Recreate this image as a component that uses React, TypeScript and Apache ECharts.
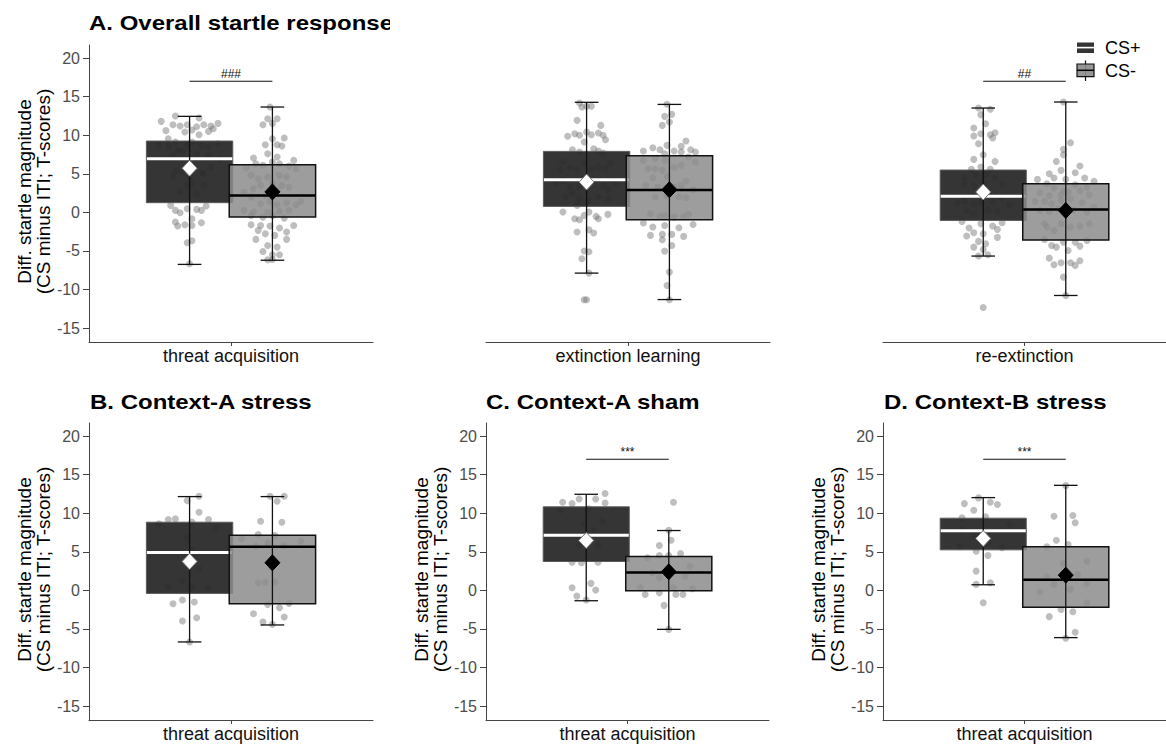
import React, { useEffect, useRef } from 'react';
import * as echarts from 'echarts';

const FONT = "'Liberation Sans', Arial, Helvetica, sans-serif";

// ---------- DATA ----------
const panelTitles = ['A. Overall startle response', '', '', 'B. Context-A stress', 'C. Context-A sham', 'D. Context-B stress'];
const phaseLabels = ['threat acquisition', 'extinction learning', 're-extinction', 'threat acquisition', 'threat acquisition', 'threat acquisition'];
const groupNames = ['CS+', 'CS-'];
const yTicks = [-15, -10, -5, 0, 5, 10, 15, 20];
const yAxisTitle = 'Diff. startle magnitude\n(CS minus ITI; T-scores)';

// [lower whisker, Q1, median, Q3, upper whisker, mean]
const statsPlus = [
  [-6.74, 1.26, 6.96, 9.25, 12.45, 5.72],
  [-7.87, 0.78, 4.24, 7.91, 14.27, 3.93],
  [-5.66, -1.04, 2.08, 5.49, 13.53, 2.64],
  [-6.68, -0.39, 4.92, 8.84, 12.16, 3.75],
  [-1.34, 3.75, 7.16, 10.83, 12.46, 6.47],
  [0.73, 5.26, 7.72, 9.36, 12.03, 6.73],
];
const statsMinus = [
  [-6.2, -0.6, 2.2, 6.19, 13.66, 2.66],
  [-11.3, -0.95, 2.9, 7.35, 14.0, 2.94],
  [-10.77, -3.59, 0.39, 3.72, 14.31, 0.26],
  [-4.48, -1.72, 5.65, 7.16, 12.16, 3.58],
  [-5.05, -0.04, 2.33, 4.4, 7.76, 2.41],
  [-6.12, -2.2, 1.38, 5.65, 13.62, 1.98],
];
const sigLabels = ['###', '', '##', '', '***', '***'];
const sigLevel = 17;

// individual points: [horizontal jitter (category units), value]
const ptsA1Plus = [[-0.06,12.49],[0.04,12.23],[-0.12,11.8],[-0.07,11.37],[-0.04,11.2],[-0.01,11.37],[0.03,11.1],[0.06,11.37],[0.09,11.2],[0.12,11.54],[-0.10,10.6],[-0.02,10.42],[0.01,10.68],[0.08,10.5],[0.10,10.85],[0.04,10.07],[-0.09,9.55],[-0.13,8.69],[-0.09,8.6],[-0.06,9.12],[-0.05,8.04],[-0.01,8.78],[0.01,9.12],[0.05,8.69],[0.08,8.47],[0.12,8.91],[-0.07,7.39],[-0.03,7.91],[0.03,7.61],[0.08,7.39],[0.13,6.96],[-0.06,5.32],[-0.03,5.15],[0.01,5.32],[0.05,5.15],[0.09,5.88],[-0.07,4.58],[0,4.58],[0.06,5.02],[0.01,3.72],[-0.04,2.72],[0.03,2.37],[0.06,3.5],[-0.01,3.59],[-0.08,0.91],[-0.06,0.26],[-0.04,-0.04],[-0.01,0.48],[0.03,0.39],[0.05,0.26],[0.07,0.82],[-0.06,-1.25],[-0.05,-1.77],[-0.02,-1.6],[0.01,-1.69],[0.05,-1.34],[0.01,-0.82],[-0.01,-3.93],[0.01,-3.67],[0,-6.66]];
const ptsA1Minus = [[-0.01,13.66],[-0.02,12.15],[0.02,12.15],[-0.04,11.37],[0,11.54],[0,9.55],[0.05,9.64],[-0.03,8.78],[0.02,8.78],[0.04,8.6],[-0.08,7.04],[-0.02,7.61],[0.02,7.18],[0.09,6.74],[-0.11,5.75],[-0.07,6.31],[-0.04,6.1],[0,6.53],[0.03,6.31],[0.07,6.01],[0.10,5.66],[-0.09,4.8],[-0.06,4.37],[-0.02,4.58],[0.03,4.8],[0.06,4.58],[-0.05,3.5],[0,3.72],[0.04,3.5],[0.07,3.28],[-0.08,3.07],[-0.12,2.63],[-0.03,2.2],[0.02,2.85],[-0.09,1.98],[-0.05,1.13],[-0.01,1.43],[0.02,1.0],[0.06,1.26],[0.10,1.0],[0.12,1.43],[-0.12,0.26],[-0.08,0.04],[-0.02,0.04],[0.03,0.13],[0.07,0.26],[-0.09,-0.39],[-0.04,-0.61],[0,-0.39],[0.05,-0.74],[-0.09,-1.6],[-0.05,-1.69],[-0.01,-1.77],[0.03,-2.03],[0.09,-1.69],[-0.06,-2.33],[-0.03,-2.77],[0.01,-2.98],[0.06,-2.55],[-0.07,-3.5],[-0.02,-4.28],[0.02,-4.5],[0.06,-3.5],[-0.04,-5.06],[0,-5.49],[0.03,-5.49],[-0.02,-6.14],[0,-6.1]];
const ptsA2Plus = [[-0.03,14.18],[0,13.75],[0.02,13.75],[-0.02,13.66],[-0.04,11.93],[0.06,11.28],[-0.08,9.86],[-0.05,10.2],[-0.03,9.99],[0,10.42],[0.02,10.07],[0.05,10.29],[0.07,9.99],[0.08,9.42],[-0.01,9.12],[-0.06,8.13],[-0.03,7.83],[0.03,8.26],[0.05,7.96],[0.07,7.7],[-0.10,6.53],[-0.11,5.53],[-0.07,5.79],[-0.04,5.53],[-0.01,6.4],[0.02,5.66],[0.05,5.88],[0.08,5.66],[0.10,6.4],[-0.13,3.93],[-0.10,4.15],[-0.07,3.28],[-0.03,3.37],[0.03,4.15],[0.07,3.5],[0.09,2.94],[0.12,3.72],[-0.09,1.99],[-0.06,2.5],[-0.03,1.77],[0.01,1.56],[0.05,1.99],[0.09,1.77],[-0.04,0.91],[-0.10,0.04],[-0.05,-0.82],[-0.03,-0.95],[-0.01,-0.39],[0.01,0.04],[0.04,-0.52],[0.05,-0.82],[0.09,-0.26],[-0.04,-2.55],[0.01,-2.25],[0.03,-2.68],[-0.01,-5.01],[0.01,-5.1],[-0.02,-6.01],[0.01,-7.87],[-0.01,-11.33],[0,-11.33]];
const ptsA2Minus = [[-0.01,14.01],[-0.02,12.45],[0.01,12.71],[0,11.72],[-0.03,11.28],[-0.01,8.69],[-0.11,7.96],[-0.07,8.39],[-0.04,8.13],[-0.02,7.61],[0.02,7.96],[0.05,8.56],[0.07,9.25],[0.09,8.13],[0.11,7.83],[-0.11,6.74],[-0.06,6.96],[-0.02,6.74],[0.05,7.83],[0.08,7.18],[0.11,6.53],[-0.09,5.66],[-0.06,5.66],[-0.03,5.45],[0.02,5.79],[0.05,6.1],[-0.07,4.5],[-0.01,4.67],[0.07,4.06],[-0.10,3.5],[-0.05,3.28],[-0.02,3.07],[0.02,3.28],[0.05,3.5],[0.10,2.94],[-0.06,1.99],[-0.01,2.2],[0.04,1.99],[0.07,1.9],[-0.08,-0.17],[-0.04,-0.52],[-0.02,-0.39],[0.02,-0.61],[0.06,-0.52],[0.08,-0.26],[-0.11,-1.38],[-0.07,-1.9],[-0.02,-1.69],[0.04,-1.99],[0.10,-1.56],[-0.08,-2.98],[-0.03,-2.85],[0.01,-2.85],[0.06,-3.11],[-0.03,-3.55],[0.01,-4.28],[-0.02,-5.02],[0,-7.74],[-0.01,-9.47],[0,-11.33]];
const ptsA3Plus = [[-0.02,13.53],[0.03,13.36],[-0.01,12.67],[0.01,11.5],[-0.04,10.94],[0.05,10.33],[-0.04,9.9],[-0.01,10.2],[0.03,10.07],[0.04,9.64],[-0.02,8.91],[0,7.48],[-0.04,6.87],[0.05,6.61],[-0.05,5.58],[-0.01,5.88],[0.03,5.58],[-0.08,4.45],[-0.03,4.8],[0.01,4.89],[0.05,4.45],[-0.08,3.59],[-0.04,3.41],[0,3.85],[0.08,3.59],[-0.11,1.26],[-0.08,1.43],[-0.04,1.13],[-0.01,1.34],[0.04,1.43],[0.08,1.86],[0.11,1.0],[-0.07,0.26],[-0.04,-0.17],[0.02,0.26],[0.06,0.13],[-0.09,-1.17],[-0.01,-1.47],[0.08,-1.34],[-0.06,-2.03],[0.04,-1.77],[0.06,-2.2],[-0.07,-3.07],[-0.04,-2.64],[0,-2.77],[0.06,-3.24],[-0.02,-3.76],[0.01,-4.06],[-0.04,-4.5],[0,-4.8],[-0.02,-5.66],[0.02,-5.49],[0,-12.32]];
const ptsA3Minus = [[-0.01,14.31],[0.02,9.04],[-0.01,8.17],[-0.01,7.48],[-0.04,6.61],[0.06,6.01],[-0.07,5.02],[-0.05,4.45],[-0.02,5.45],[0.04,5.15],[0.08,4.45],[-0.12,4.28],[-0.08,3.72],[0,4.28],[0.04,3.59],[0.09,3.28],[0.12,4.02],[-0.05,3.15],[-0.01,2.72],[0.06,2.85],[-0.11,2.55],[-0.07,2.2],[-0.02,2.29],[0.01,2.63],[0.10,2.29],[-0.13,1.43],[-0.09,1.43],[-0.06,1.13],[-0.02,1.56],[0.02,1.77],[0.07,1.26],[0.12,0.69],[-0.11,0.26],[-0.07,0.13],[-0.03,0.48],[0.03,0.26],[0.09,0.04],[-0.09,-1.47],[-0.08,-1.9],[-0.05,-2.33],[-0.02,-1.47],[0.02,-1.9],[0.06,-1.77],[0.10,-1.47],[-0.09,-3.5],[-0.06,-4.28],[-0.04,-4.5],[-0.01,-3.85],[0.04,-3.85],[0.06,-4.37],[0.09,-3.63],[0.01,-4.93],[-0.07,-5.93],[-0.05,-6.79],[-0.02,-6.53],[0.02,-6.53],[0.04,-6.87],[0.06,-6.27],[-0.01,-8.39],[0,-10.77]];
const ptsBPlus = [[0.04,12.2],[-0.01,11.64],[0.04,10.13],[-0.06,9.27],[-0.09,9.18],[-0.13,8.62],[0.01,8.85],[0.08,9.18],[0.11,7.98],[-0.01,6.81],[0.01,5.2],[0.04,2.8],[-0.03,1.25],[-0.09,0.47],[0.01,0.47],[0.08,0.34],[-0.07,-1.73],[-0.03,-1.25],[0.02,-1.51],[-0.03,-3.97],[0.03,-3.54],[0,-6.68]];
const ptsBMinus = [[-0.01,12.2],[0.05,12.2],[0.02,11.55],[-0.05,8.97],[0.04,8.84],[-0.06,7.24],[0.01,7.12],[-0.13,6.69],[-0.07,5.73],[-0.02,6.17],[0.05,5.82],[0.12,6.38],[-0.06,1.0],[-0.03,1.07],[0.01,1.07],[-0.02,-1.81],[0.03,-2.24],[0.07,-1.68],[-0.08,-3.02],[-0.04,-4.1],[0.05,-3.45],[0,-4.4]];
const ptsCPlus = [[0.08,12.55],[-0.03,11.86],[0.04,11.86],[-0.10,11.43],[-0.06,11.25],[0.08,11.34],[-0.11,10.39],[0.01,10.57],[0.07,8.97],[-0.01,8.54],[0.03,7.8],[-0.03,5.82],[0.05,5.82],[-0.06,3.66],[-0.02,3.58],[0.05,3.66],[-0.06,0.35],[0.02,0.91],[0.04,0.04],[-0.04,-0.74],[0,-1.25]];
const ptsCMinus = [[0.02,11.43],[0,7.8],[-0.04,5.82],[0.01,6.51],[-0.09,4.23],[-0.04,4.53],[0,4.53],[0.05,4.79],[0.09,3.14],[-0.07,2.29],[-0.04,1.64],[0,2.29],[0.07,1.85],[-0.12,0.35],[-0.10,-0.52],[-0.04,-0.3],[0.02,0.35],[0.03,-0.52],[0.06,-0.52],[0.10,0.22],[-0.02,-1.94],[0,-5.05]];
const ptsDPlus = [[-0.02,11.99],[-0.08,11.25],[0.03,11.43],[0.06,11.13],[-0.04,10.39],[-0.09,9.4],[0.01,9.53],[0.11,8.54],[-0.09,7.89],[-0.04,7.03],[0,6.82],[0.02,6.08],[-0.10,5.65],[-0.03,5.08],[0.02,4.53],[0.08,5.52],[-0.03,2.5],[-0.03,0.78],[0.03,0.99],[0,-1.59]];
const ptsDMinus = [[0,13.58],[-0.05,9.61],[0.03,9.7],[0.04,8.76],[-0.04,6.51],[-0.08,5.65],[0.01,5.95],[-0.01,3.49],[0.09,3.79],[-0.08,1.77],[0.05,2.07],[-0.11,-0.22],[-0.05,0.78],[0.02,0.13],[0.09,0.91],[0.09,-1.59],[-0.02,-2.46],[0.03,-2.76],[-0.07,-3.4],[0.04,-5.43],[0,-6.2]];

const pointsPlus = [ptsA1Plus, ptsA2Plus, ptsA3Plus, ptsBPlus, ptsCPlus, ptsDPlus];
const pointsMinus = [ptsA1Minus, ptsA2Minus, ptsA3Minus, ptsBMinus, ptsCMinus, ptsDMinus];

// ---------- LAYOUT ----------
const layout = [
  [89, 45, 284, 297], [486, 45, 284, 297], [883, 45, 283, 297],
  [89, 423, 284, 297], [486, 423, 283, 297], [883, 423, 283, 297],
];
const showY = [true, false, false, true, true, true];
const titlePos = [[89, 23], null, null, [90, 402], [486, 402], [884, 402]];
const X_MIN = 0.4, X_MAX = 1.6, CAT_X = 1, DODGE = 0.175, BOX_W = 0.365, CAP_W = 0.1;
const Y_MIN = -16.8, Y_MAX = 21.7;

const styles = {
  plus: { fill: 'rgba(38,38,38,0.93)', stroke: '#5a5a5a', lw: 1, med: '#ffffff', medW: 3, meanFill: '#ffffff', meanStroke: '#777' },
  minus: { fill: 'rgba(140,140,140,0.85)', stroke: '#111', lw: 1.5, med: '#000000', medW: 2.5, meanFill: '#000000', meanStroke: '#000' },
};

function makeBoxRenderer(st: any) {
  return (params: any, api: any) => {
    const x = api.value(0);
    const c = (v: number) => api.coord([x, v]);
    const [cx, yLow] = c(api.value(1));
    const yQ1 = c(api.value(2))[1];
    const yMed = c(api.value(3))[1];
    const yQ3 = c(api.value(4))[1];
    const yHigh = c(api.value(5))[1];
    const yMean = c(api.value(6))[1];
    const hw = api.size([BOX_W, 0])[0] / 2;
    const ch = api.size([CAP_W, 0])[0] / 2;
    const dw = 7.5, dh = 8;
    const ebStyle = { stroke: '#111', lineWidth: 1.3 };
    return {
      type: 'group',
      children: [
        { type: 'rect', shape: { x: cx - hw, y: yQ3, width: hw * 2, height: yQ1 - yQ3 }, style: { fill: st.fill, stroke: st.stroke, lineWidth: st.lw } },
        { type: 'line', shape: { x1: cx - hw + 0.5, y1: yMed, x2: cx + hw - 0.5, y2: yMed }, style: { stroke: st.med, lineWidth: st.medW } },
        { type: 'line', shape: { x1: cx, y1: yLow, x2: cx, y2: yHigh }, style: ebStyle },
        { type: 'line', shape: { x1: cx - ch, y1: yLow, x2: cx + ch, y2: yLow }, style: ebStyle },
        { type: 'line', shape: { x1: cx - ch, y1: yHigh, x2: cx + ch, y2: yHigh }, style: ebStyle },
        { type: 'polygon', shape: { points: [[cx, yMean - dh], [cx + dw, yMean], [cx, yMean + dh], [cx - dw, yMean]] }, style: { fill: st.meanFill, stroke: st.meanStroke, lineWidth: 1 } },
      ],
    };
  };
}

function makeSigRenderer(label: string) {
  return (params: any, api: any) => {
    const p1 = api.coord([api.value(0), api.value(2)]);
    const p2 = api.coord([api.value(1), api.value(2)]);
    return {
      type: 'group',
      children: [
        { type: 'line', shape: { x1: p1[0], y1: p1[1], x2: p2[0], y2: p2[1] }, style: { stroke: '#111', lineWidth: 1 } },
        {
          type: 'text', x: (p1[0] + p2[0]) / 2, y: p1[1] - 1,
          style: { text: label, fontSize: 12, fontFamily: FONT, fill: '#111', align: 'center', verticalAlign: 'bottom', textAlign: 'center', textVerticalAlign: 'bottom' },
        },
      ],
    };
  };
}

function buildOption() {
  const grid = layout.map(([l, t, w, h]) => ({ left: l, top: t, width: w, height: h }));
  const xAxis = layout.map((_, i) => ({
    gridIndex: i, type: 'value', min: X_MIN, max: X_MAX,
    axisLine: { show: true, onZero: false, lineStyle: { color: '#444', width: 1 } },
    axisTick: { show: true, length: 4, customValues: [CAT_X], lineStyle: { color: '#444' } },
    axisLabel: { show: true, customValues: [CAT_X], formatter: () => phaseLabels[i], fontSize: 18, fontFamily: FONT, color: '#111', margin: 5 },
    splitLine: { show: false },
  }));
  const yAxis = layout.map((_, i) => ({
    gridIndex: i, type: 'value', min: Y_MIN, max: Y_MAX, show: showY[i],
    axisLine: { show: true, onZero: false, lineStyle: { color: '#444', width: 1 } },
    axisTick: { show: true, length: 6, customValues: yTicks, lineStyle: { color: '#444' } },
    axisLabel: { show: true, customValues: yTicks, fontSize: 16, fontFamily: FONT, color: '#4d4d4d', margin: 9 },
    splitLine: { show: false },
  }));

  const series: any[] = [];
  layout.forEach((_, i) => {
    const xPlus = CAT_X - DODGE, xMinus = CAT_X + DODGE;
    series.push({
      type: 'scatter', name: groupNames[0], xAxisIndex: i, yAxisIndex: i, z: 1, silent: true,
      symbol: 'circle', symbolSize: 7, itemStyle: { color: 'rgba(115,115,115,0.58)' },
      data: pointsPlus[i].map(([dx, v]) => [xPlus + dx, v]),
    });
    series.push({
      type: 'scatter', name: groupNames[1], xAxisIndex: i, yAxisIndex: i, z: 1, silent: true,
      symbol: 'circle', symbolSize: 7, itemStyle: { color: 'rgba(115,115,115,0.58)' },
      data: pointsMinus[i].map(([dx, v]) => [xMinus + dx, v]),
    });
    series.push({
      type: 'custom', name: groupNames[0] + ' box', xAxisIndex: i, yAxisIndex: i, z: 2, silent: true, clip: false,
      encode: { x: 0, y: [1, 2, 3, 4, 5, 6] },
      renderItem: makeBoxRenderer(styles.plus),
      data: [[xPlus, ...statsPlus[i]]],
    });
    series.push({
      type: 'custom', name: groupNames[1] + ' box', xAxisIndex: i, yAxisIndex: i, z: 3, silent: true, clip: false,
      encode: { x: 0, y: [1, 2, 3, 4, 5, 6] },
      renderItem: makeBoxRenderer(styles.minus),
      data: [[xMinus, ...statsMinus[i]]],
    });
    if (sigLabels[i]) {
      series.push({
        type: 'custom', name: 'sig', xAxisIndex: i, yAxisIndex: i, z: 4, silent: true, clip: false,
        encode: { x: [0, 1], y: 2 },
        renderItem: makeSigRenderer(sigLabels[i]),
        data: [[xPlus, xMinus, sigLevel]],
      });
    }
  });

  const elements: any[] = [];
  panelTitles.forEach((t, i) => {
    const pos = titlePos[i];
    if (!t || !pos) return;
    elements.push({
      type: 'text', x: pos[0], y: pos[1], scaleY: 0.88,
      style: { text: t, font: `bold 24px ${FONT}`, fill: '#000', align: 'left', verticalAlign: 'middle', textAlign: 'left', textVerticalAlign: 'middle' },
    });
  });
  // clip the overflowing first title like the original
  elements.push({ type: 'rect', shape: { x: 390, y: 0, width: 90, height: 40 }, style: { fill: '#fff' }, z: 10 });

  layout.forEach(([l, t, w, h], i) => {
    if (!showY[i]) return;
    elements.push({
      type: 'text', x: l - 55.5, y: t + h / 2 - 2, rotation: Math.PI / 2,
      style: { text: yAxisTitle, fontSize: 19, lineHeight: 19, fontFamily: FONT, fill: '#000', align: 'center', verticalAlign: 'middle', textAlign: 'center', textVerticalAlign: 'middle' },
    });
  });

  // legend
  const lx = 1077, lw = 17;
  elements.push({ type: 'rect', shape: { x: lx, y: 42.5, width: lw, height: 10.5 }, style: { fill: 'rgba(38,38,38,0.93)' } });
  elements.push({ type: 'line', shape: { x1: lx, y1: 47.6, x2: lx + lw, y2: 47.6 }, style: { stroke: '#fff', lineWidth: 1.6 } });
  elements.push({ type: 'line', shape: { x1: lx + lw / 2, y1: 60.5, x2: lx + lw / 2, y2: 81 }, style: { stroke: '#111', lineWidth: 1.2 } });
  elements.push({ type: 'rect', shape: { x: lx, y: 64, width: lw, height: 12.7 }, style: { fill: 'rgba(140,140,140,0.9)', stroke: '#111', lineWidth: 1.2 } });
  elements.push({ type: 'line', shape: { x1: lx, y1: 70.3, x2: lx + lw, y2: 70.3 }, style: { stroke: '#000', lineWidth: 1.5 } });
  elements.push({ type: 'text', x: 1105, y: 47.5, style: { text: groupNames[0], fontSize: 18, fontFamily: FONT, fill: '#000', align: 'left', verticalAlign: 'middle', textAlign: 'left', textVerticalAlign: 'middle' } });
  elements.push({ type: 'text', x: 1105, y: 70.5, style: { text: groupNames[1], fontSize: 18, fontFamily: FONT, fill: '#000', align: 'left', verticalAlign: 'middle', textAlign: 'left', textVerticalAlign: 'middle' } });

  return {
    animation: false,
    backgroundColor: '#ffffff',
    grid, xAxis, yAxis, series,
    graphic: { elements },
  };
}

export default function App() {
  const ref = useRef<HTMLDivElement>(null);
  useEffect(() => {
    if (!ref.current) return;
    const chart = echarts.init(ref.current, null, { renderer: 'svg' });
    chart.setOption(buildOption() as any);
    return () => chart.dispose();
  }, []);
  return <div ref={ref} style={{ position: 'absolute', left: 0, top: 0, width: 1166, height: 746 }} />;
}
